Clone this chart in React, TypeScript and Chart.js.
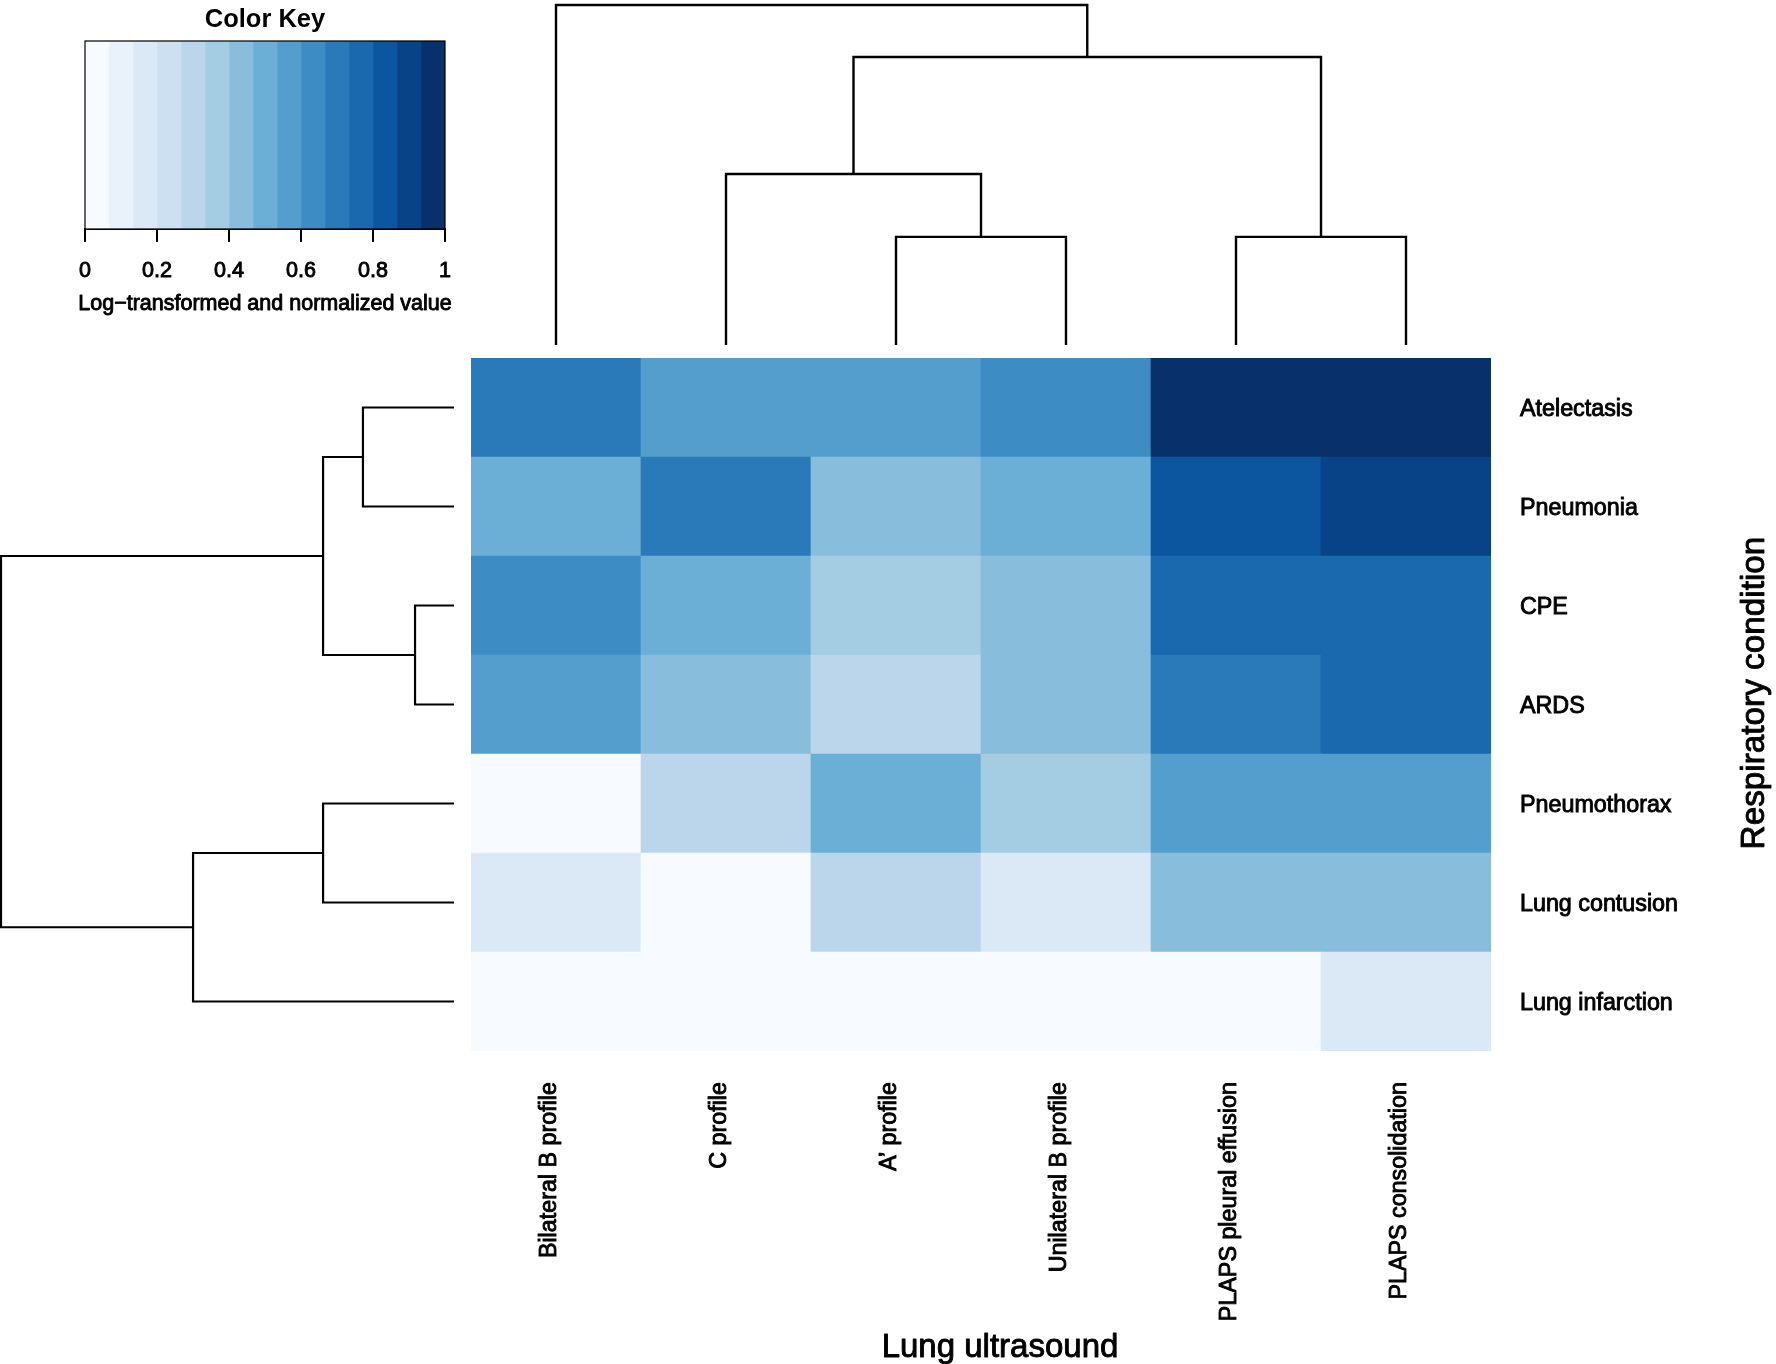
import React, { useEffect, useRef } from "react";
import { Chart, registerables } from "chart.js";

Chart.register(...registerables);

const FONT = '"Liberation Sans", Arial, Helvetica, sans-serif';
Chart.defaults.font.family = FONT;
Chart.defaults.color = "#000";

// ---------- data ----------
const columns = [
  "Bilateral B profile",
  "C profile",
  "A\u2019 profile",
  "Unilateral B profile",
  "PLAPS pleural effusion",
  "PLAPS consolidation",
];
const rows = [
  "Atelectasis",
  "Pneumonia",
  "CPE",
  "ARDS",
  "Pneumothorax",
  "Lung contusion",
  "Lung infarction",
];

// log-transformed and normalized values, one array per row (columns order above)
const atelectasisRow = [0.7, 0.57, 0.57, 0.63, 0.97, 0.97];
const pneumoniaRow = [0.5, 0.7, 0.43, 0.5, 0.83, 0.9];
const cpeRow = [0.63, 0.5, 0.37, 0.43, 0.77, 0.77];
const ardsRow = [0.57, 0.43, 0.3, 0.43, 0.7, 0.77];
const pneumothoraxRow = [0.03, 0.3, 0.5, 0.37, 0.57, 0.57];
const lungContusionRow = [0.17, 0.03, 0.3, 0.17, 0.43, 0.43];
const lungInfarctionRow = [0.03, 0.03, 0.03, 0.03, 0.03, 0.17];
const matrix = [
  atelectasisRow,
  pneumoniaRow,
  cpeRow,
  ardsRow,
  pneumothoraxRow,
  lungContusionRow,
  lungInfarctionRow,
];

// dendrograms: [left, right, height]; "mN" = N-th merge (1-based)
const colMerges: [string, string, number][] = [
  ["A\u2019 profile", "Unilateral B profile", 0.318],
  ["C profile", "m1", 0.503],
  ["PLAPS pleural effusion", "PLAPS consolidation", 0.318],
  ["m2", "m3", 0.847],
  ["Bilateral B profile", "m4", 1.0],
];
const rowMerges: [string, string, number][] = [
  ["Atelectasis", "Pneumonia", 0.201],
  ["CPE", "ARDS", 0.086],
  ["m1", "m2", 0.289],
  ["Pneumothorax", "Lung contusion", 0.289],
  ["m4", "Lung infarction", 0.576],
  ["m3", "m5", 1.0],
];

// colour key
const palette = [
  "#F7FBFF", "#E9F2FA", "#DBE9F6", "#CDE0F1", "#BBD6EB",
  "#A4CCE3", "#88BEDC", "#6BAED6", "#549ECD", "#3D8DC4",
  "#2A7ABA", "#1A68AE", "#0C56A0", "#084387", "#08306B",
];
const keyTicks = [0, 0.2, 0.4, 0.6, 0.8, 1];
const keyTickLabels = ["0", "0.2", "0.4", "0.6", "0.8", "1"];

const xTitle = "Lung ultrasound";
const yTitle = "Respiratory condition";
const keyTitle = "Color Key";
const keyAxisTitle = "Log\u2212transformed and normalized value";

// ---------- helpers ----------
const W = 1776;
const H = 1364;
const HEAT = { left: 471, right: 1491, top: 358, bottom: 1051 };
const STROKE = 0.9;

function colorFor(v: number) {
  const i = Math.min(palette.length - 1, Math.max(0, Math.floor(v * palette.length)));
  return palette[i];
}

function treeSegments(merges: [string, string, number][], leaves: string[]) {
  const pos: Record<string, number> = {};
  const hgt: Record<string, number> = {};
  leaves.forEach((l, i) => {
    pos[l] = i;
    hgt[l] = 0;
  });
  const segs: { p: number; h: number }[][] = [];
  merges.forEach(([a, b, h], i) => {
    const pa = pos[a];
    const pb = pos[b];
    segs.push([
      { p: pa, h: hgt[a] },
      { p: pa, h },
      { p: pb, h },
      { p: pb, h: hgt[b] },
    ]);
    pos["m" + (i + 1)] = (pa + pb) / 2;
    hgt["m" + (i + 1)] = h;
  });
  return segs;
}

function heavyText(ctx: CanvasRenderingContext2D, text: string, x: number, y: number) {
  ctx.lineWidth = STROKE;
  ctx.strokeStyle = "#000";
  ctx.lineJoin = "round";
  ctx.strokeText(text, x, y);
  ctx.fillText(text, x, y);
}

const baseOpts = {
  animation: false as const,
  responsive: false,
  events: [] as any[],
};

function makeHeatmap(canvas: HTMLCanvasElement) {
  const titles = {
    id: "axisTitles",
    afterDraw(chart: any) {
      const ctx = chart.ctx;
      ctx.save();
      ctx.fillStyle = "#000";
      ctx.font = `33px ${FONT}`;
      ctx.textAlign = "center";
      ctx.textBaseline = "middle";
      heavyText(ctx, xTitle, 1000, 1348);
      ctx.translate(1755, 693);
      ctx.rotate(-Math.PI / 2);
      ctx.font = `33.3px ${FONT}`;
      heavyText(ctx, yTitle, 0, 0);
      ctx.restore();
    },
  };
  const order = rows.map((_, i) => rows.length - 1 - i); // bottom row first
  return new Chart(canvas, {
    type: "bar",
    data: {
      labels: columns,
      datasets: order.map((ri) => ({
        label: rows[ri],
        data: matrix[ri].map(() => 1),
        backgroundColor: matrix[ri].map(colorFor),
        borderWidth: 0,
        barPercentage: 1,
        categoryPercentage: 1,
      })),
    },
    options: {
      ...baseOpts,
      layout: { padding: { left: HEAT.left, top: HEAT.top, right: 0, bottom: 0 } },
      plugins: { legend: { display: false }, tooltip: { enabled: false }, title: { display: false } },
      scales: {
        x: {
          stacked: true,
          grid: { display: false, drawTicks: false },
          border: { display: false },
          ticks: {
            autoSkip: false,
            minRotation: 90,
            maxRotation: 90,
            padding: 31,
            labelOffset: -6,
            color: "#000",
            textStrokeColor: "#000",
            textStrokeWidth: STROKE,
            font: { size: 23.3 },
          },
          afterFit: (s: any) => {
            s.height = H - HEAT.bottom;
          },
        },
        y: {
          stacked: true,
          position: "right",
          min: 0,
          max: rows.length,
          grid: { display: false, drawTicks: false },
          border: { display: false },
          afterBuildTicks: (s: any) => {
            s.ticks = rows.map((_, i) => ({ value: i + 0.5 }));
          },
          ticks: {
            autoSkip: false,
            padding: 29,
            labelOffset: 2,
            color: "#000",
            textStrokeColor: "#000",
            textStrokeWidth: STROKE,
            font: { size: 23.3 },
            callback: (_v: any, idx: number) => rows[rows.length - 1 - idx],
          },
          afterFit: (s: any) => {
            s.width = W - HEAT.right;
          },
        },
      },
    } as any,
    plugins: [titles],
  });
}

function makeTopTree(canvas: HTMLCanvasElement) {
  const segs = treeSegments(colMerges, columns);
  return new Chart(canvas, {
    type: "scatter",
    data: {
      datasets: segs.map((s) => ({
        data: s.map((q) => ({ x: q.p, y: q.h })),
        showLine: true,
        borderColor: "#000",
        borderWidth: 2.4,
        pointRadius: 0,
        fill: false,
        tension: 0,
        clip: false,
      })),
    },
    options: {
      ...baseOpts,
      layout: { padding: { left: HEAT.left, right: W - HEAT.right, top: 5, bottom: H - 345 } },
      plugins: { legend: { display: false }, tooltip: { enabled: false } },
      scales: {
        x: { type: "linear", display: false, min: -0.5, max: columns.length - 0.5 },
        y: { type: "linear", display: false, min: 0, max: 1 },
      },
    } as any,
  });
}

function makeLeftTree(canvas: HTMLCanvasElement) {
  const segs = treeSegments(rowMerges, rows);
  return new Chart(canvas, {
    type: "scatter",
    data: {
      datasets: segs.map((s) => ({
        data: s.map((q) => ({ x: q.h, y: q.p })),
        showLine: true,
        borderColor: "#000",
        borderWidth: 2.2,
        pointRadius: 0,
        fill: false,
        tension: 0,
        clip: false,
      })),
    },
    options: {
      ...baseOpts,
      layout: { padding: { left: 1, right: W - 454, top: HEAT.top, bottom: H - HEAT.bottom } },
      plugins: { legend: { display: false }, tooltip: { enabled: false } },
      scales: {
        x: { type: "linear", display: false, min: 0, max: 1, reverse: true },
        y: { type: "linear", display: false, min: -0.5, max: rows.length - 0.5, reverse: true },
      },
    } as any,
  });
}

const KEY_W = 530;
const KEY_H = 320;

function makeKey(canvas: HTMLCanvasElement) {
  const outline = {
    id: "keyOutline",
    afterDatasetsDraw(chart: any) {
      const { ctx, chartArea: a } = chart;
      ctx.save();
      ctx.strokeStyle = "#000";
      ctx.lineWidth = 1.2;
      ctx.strokeRect(a.left, a.top, a.right - a.left, a.bottom - a.top);
      ctx.restore();
    },
    afterDraw(chart: any) {
      const { ctx, chartArea: a } = chart;
      ctx.save();
      ctx.fillStyle = "#000";
      ctx.font = `21.5px ${FONT}`;
      ctx.textAlign = "center";
      ctx.textBaseline = "middle";
      heavyText(ctx, keyAxisTitle, (a.left + a.right) / 2, 304.5);
      ctx.restore();
    },
  };
  const n = palette.length;
  return new Chart(canvas, {
    type: "bar",
    data: {
      labels: [""],
      datasets: palette.map((c, i) => ({
        data: [[i / n, (i + 1) / n]],
        backgroundColor: c,
        borderWidth: 0,
        barPercentage: 1,
        categoryPercentage: 1,
        grouped: false,
      })),
    },
    options: {
      ...baseOpts,
      indexAxis: "y",
      layout: { padding: { left: 85, right: 85, top: 0, bottom: 0 } },
      plugins: {
        legend: { display: false },
        tooltip: { enabled: false },
        title: {
          display: true,
          text: keyTitle,
          color: "#000",
          font: { size: 25.5, weight: "bold", lineHeight: 1.2 },
          padding: { top: 4.7, bottom: 5.7 },
        },
      },
      scales: {
        y: { type: "category", display: false },
        x: {
          type: "linear",
          position: "bottom",
          min: 0,
          max: 1,
          grid: { drawOnChartArea: false, drawTicks: true, tickLength: 13, color: "#000", lineWidth: 2 },
          border: { display: true, color: "#000", width: 2 },
          afterBuildTicks: (s: any) => {
            s.ticks = keyTicks.map((v) => ({ value: v }));
          },
          ticks: {
            padding: 16.5,
            color: "#000",
            textStrokeColor: "#000",
            textStrokeWidth: STROKE,
            font: { size: 21.5 },
            callback: (_v: any, idx: number) => keyTickLabels[idx],
          },
          title: { display: false },
          afterFit: (s: any) => {
            s.height = KEY_H - 229;
          },
        },
      },
    } as any,
    plugins: [outline],
  });
}

function ChartCanvas({
  make,
  width,
  height,
}: {
  make: (c: HTMLCanvasElement) => Chart;
  width: number;
  height: number;
}) {
  const ref = useRef<HTMLCanvasElement>(null);
  useEffect(() => {
    if (!ref.current) return;
    const chart = make(ref.current);
    return () => chart.destroy();
  }, []);
  return (
    <canvas
      ref={ref}
      width={width}
      height={height}
      style={{ position: "absolute", left: 0, top: 0, width, height, display: "block" }}
    />
  );
}

export default function App() {
  return (
    <div
      style={{
        position: "absolute",
        left: 0,
        top: 0,
        width: W,
        height: H,
        background: "#fff",
        overflow: "hidden",
      }}
    >
      <ChartCanvas make={makeHeatmap} width={W} height={H} />
      <ChartCanvas make={makeTopTree} width={W} height={H} />
      <ChartCanvas make={makeLeftTree} width={W} height={H} />
      <ChartCanvas make={makeKey} width={KEY_W} height={KEY_H} />
    </div>
  );
}
